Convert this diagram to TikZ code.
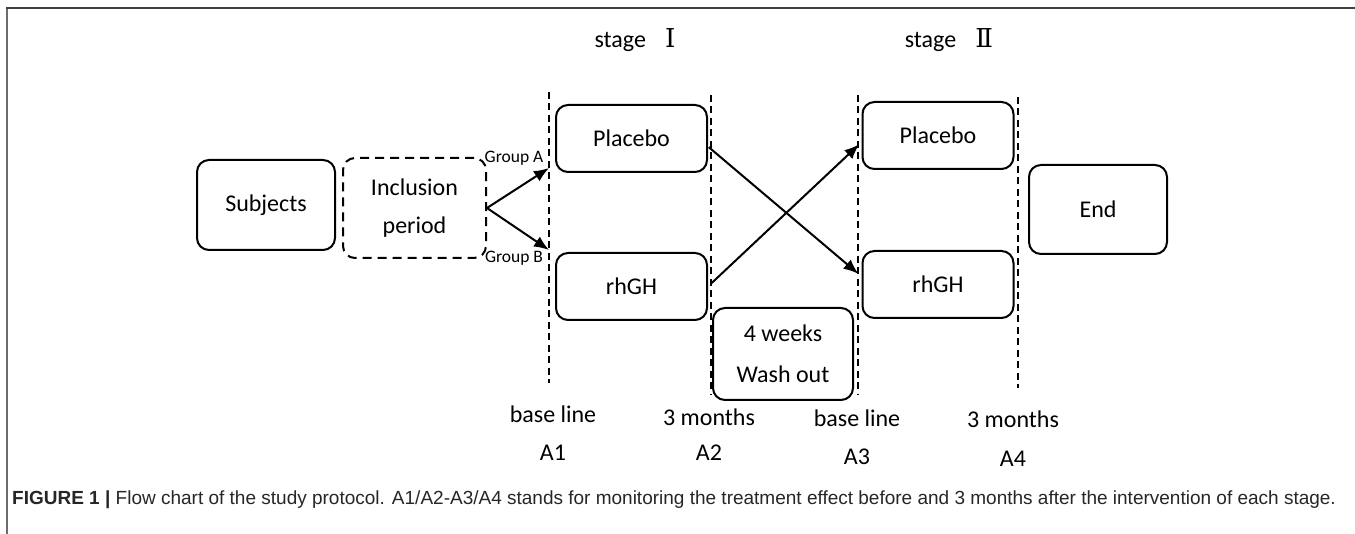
\documentclass[tikz,border=0pt]{standalone}
\usepackage{fontspec}
\setmainfont{Carlito}
\newfontfamily\capfont{Liberation Sans}
\newfontfamily\romfont{DejaVu Serif}
\usetikzlibrary{arrows.meta}

\begin{document}
\begin{tikzpicture}[x=1pt, y=-1pt,
  every node/.style={font=\fontsize{24}{28}\selectfont},
  box/.style={draw, rounded corners=12pt, line width=2pt, minimum width=151pt, minimum height=67pt},
  vline/.style={line width=1.3pt, dash pattern=on 7pt off 4.5pt},
  arr/.style={-{Latex[length=15pt,width=12pt]}, line width=2pt}]
  \useasboundingbox (0,0) rectangle (1355,534);
  % frame
  \draw[gray!85!black, line width=2pt] (7,534) -- (7,8);
  \draw[black!75, line width=2.5pt] (6,8) -- (1355,8);
  % stage titles
  \node (stI) at (635,40) {stage\hspace{0.8em}{\romfont\fontsize{26}{28}\selectfont Ⅰ}};
  \node (stII) at (949,40) {stage\hspace{0.8em}{\romfont\fontsize{26}{28}\selectfont Ⅱ}};
  % time lines
  \draw[vline] (549,92) -- (549,383);
  \draw[vline] (711,95) -- (711,395);
  \draw[vline] (858,95) -- (858,395);
  \draw[vline] (1018,97) -- (1018,388);
  % boxes
  \node[box, minimum width=138pt, minimum height=90pt] (subj) at (266,205) {Subjects};
  \node[box, dashed, dash pattern=on 9pt off 6pt, minimum width=143pt, minimum height=100pt,
    align=center, font=\fontsize{24}{38}\selectfont] (incl) at (414.5,208) {Inclusion\\period};
  \node[box] (plaI) at (631.5,138.5) {Placebo};
  \node[box] (rhgI) at (631.5,286.5) {rhGH};
  \node[box] (plaII) at (938,135.5) {Placebo};
  \node[box] (rhgII) at (938,284.5) {rhGH};
  \node[box, minimum width=138pt, minimum height=89pt] (end) at (1098,209.5) {End};
  \node[box, minimum width=140pt, minimum height=92pt, align=center,
    font=\fontsize{24}{41}\selectfont] (wash) at (783,354) {4 weeks\\Wash out};
  % groups
  \coordinate (gA) at (549,168);
  \coordinate (gB) at (549,250);
  \node[font=\fontsize{17.5}{20}\selectfont, inner sep=0pt] (grpA) at (514,158) {Group A};
  \node[font=\fontsize{17.5}{20}\selectfont, inner sep=0pt] (grpB) at (514,258) {Group B};
  \draw[arr] (incl.east) -- (gA);
  \draw[arr] (incl.east) -- (gB);
  \draw[arr, shorten <=1pt, shorten >=4pt] (plaI.-6) -- (rhgII.174);
  \draw[arr, shorten <=5pt, shorten >=3pt] (rhgI.east) -- (plaII.185);
  % time points
  \node (bl1) at (553,414) {base line};
  \node (a1) at (553,453) {A1};
  \node (m1) at (709,417) {3 months};
  \node (a2) at (709,453) {A2};
  \node (bl2) at (857,418) {base line};
  \node (a3) at (857,457) {A3};
  \node (m2) at (1013,419) {3 months};
  \node (a4) at (1013,459) {A4};
  % caption
  \node[anchor=west, inner sep=0pt, text=black!85, font=\capfont\fontsize{19}{22}\selectfont] (cap) at (12,500)
    {\textbf{FIGURE 1 |} Flow chart of the study protocol. A1/A2-A3/A4 stands for monitoring the treatment effect before and 3 months after the intervention of each stage.};
\end{tikzpicture}
\end{document}
